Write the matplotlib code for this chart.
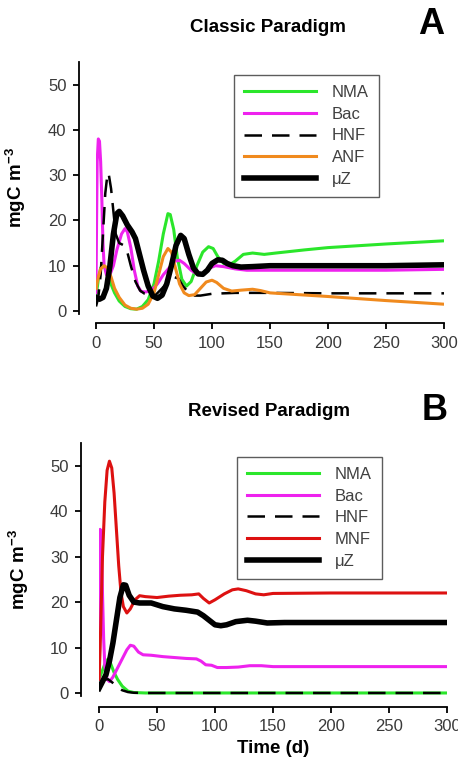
import matplotlib
matplotlib.use("Agg")
import matplotlib.pyplot as plt

plt.rcParams['font.family'] = ['Liberation Sans', 'DejaVu Sans']
plt.rcParams['mathtext.fontset'] = 'custom'
plt.rcParams['mathtext.rm'] = 'Liberation Sans:bold'
plt.rcParams['mathtext.bf'] = 'Liberation Sans:bold'

# ---------------- Panel A : Classic Paradigm ----------------
a_nma_t = [0, 2, 4, 6, 8, 12, 16, 20, 25, 30, 35, 40, 45, 50, 54, 58, 62, 64, 67, 70, 74, 78, 82, 87, 92, 97, 101, 105, 110, 115, 120, 127, 135, 145, 155, 180, 200, 250, 300]
a_nma_v = [3, 7, 9.5, 10.2, 9.5, 6.5, 4, 2.2, 1, 0.5, 0.4, 1, 2.5, 6, 11, 17, 21.5, 21.3, 18, 12, 7, 5.5, 6.5, 10, 13, 14.2, 13.8, 12, 10.5, 10.2, 11, 12.5, 12.8, 12.5, 12.8, 13.5, 14, 14.8, 15.5]

a_bac_t = [0, 0.5, 1, 2, 3, 4, 5, 6, 7, 9, 12, 15, 18, 22, 25, 27, 30, 33, 36, 39, 43, 48, 53, 58, 63, 68, 72, 76, 82, 88, 93, 98, 103, 110, 120, 130, 150, 200, 250, 300]
a_bac_v = [4, 20, 33, 38, 37.5, 33, 25, 15, 10, 8, 8, 10, 13.5, 17, 18.2, 17.5, 14, 9, 5.5, 4.3, 4.2, 4.6, 6, 8, 9.5, 11, 11.2, 10.5, 9, 8, 8.2, 9.5, 10, 9.8, 9.3, 9, 9, 9, 9, 9.2]

a_hnf_t = [0, 2, 4, 6, 8, 10, 11, 13, 15, 17, 20, 24, 27, 30, 34, 38, 42, 47, 52, 57, 62, 67, 71, 75, 80, 85, 90, 100, 120, 150, 200, 250, 300]
a_hnf_v = [1, 3, 8, 17, 26, 30.5, 30.2, 27, 22, 17, 15, 14.5, 13, 10, 6.5, 4.5, 3.8, 3.5, 3.7, 5, 6.5, 7.5, 7.2, 5.5, 4, 3.4, 3.4, 3.8, 4, 4, 3.9, 3.9, 3.9]

a_anf_t = [0, 2, 4, 7, 10, 13, 16, 20, 25, 30, 35, 40, 45, 50, 54, 58, 62, 65, 68, 72, 76, 80, 85, 90, 95, 100, 104, 110, 117, 125, 135, 142, 150, 200, 250, 300]
a_anf_v = [5, 7.5, 9.3, 10, 9.5, 7.5, 5, 3, 1.3, 0.6, 0.4, 0.6, 1.5, 4, 8, 12, 13.8, 13, 10, 6, 4, 3.4, 3.6, 5, 6.4, 6.8, 6.3, 5, 4.4, 4.6, 4.8, 4.5, 4, 3.2, 2.3, 1.5]

a_uz_t = [0, 3, 6, 9, 12, 15, 18, 20, 23, 27, 31, 34, 37, 41, 45, 49, 53, 57, 61, 65, 69, 73, 76, 80, 84, 88, 92, 96, 100, 105, 109, 113, 118, 125, 135, 150, 200, 250, 300]
a_uz_v = [3, 2.6, 3, 5, 10, 17, 21.5, 22, 21, 19, 17.5, 16, 13, 9, 5.5, 3.3, 2.8, 3.5, 6, 10, 14.5, 16.7, 16, 12.5, 9.5, 8.2, 8.1, 9, 10.5, 11.3, 11.2, 10.5, 10, 9.7, 9.8, 10, 10, 10, 10.2]

# ---------------- Panel B : Revised Paradigm ----------------
b_nma_t = [0, 3, 6, 8, 10, 13, 16, 20, 25, 30, 40, 300]
b_nma_v = [3, 5, 7, 7.5, 6.5, 4.5, 3, 1.5, 0.4, 0.1, 0, 0]

b_bac_t = [0, 0.5, 1, 2, 3, 4, 5, 7, 9, 12, 16, 20, 24, 27, 30, 34, 38, 45, 55, 65, 75, 84, 88, 92, 97, 102, 110, 120, 130, 140, 150, 200, 250, 300]
b_bac_v = [3, 20, 36, 34, 22, 12, 6, 3, 2.5, 3.5, 5.5, 7.5, 9.5, 10.5, 10.3, 9, 8.4, 8.3, 8, 7.8, 7.6, 7.5, 7, 6.2, 6.1, 5.6, 5.6, 5.7, 6, 6, 5.8, 5.8, 5.8, 5.8]

b_hnf_t = [0, 4, 8, 12, 16, 20, 25, 30, 40, 300]
b_hnf_v = [2, 3, 3, 2.2, 1.3, 0.6, 0.2, 0.05, 0, 0]

b_mnf_t = [0, 1, 2, 3, 5, 7, 9, 11, 13, 15, 17, 19, 21, 24, 27, 31, 35, 40, 50, 60, 70, 80, 86, 90, 95, 100, 108, 115, 120, 127, 135, 142, 150, 200, 250, 300]
b_mnf_v = [3, 10, 20, 30, 42, 49, 51, 49.5, 44, 36, 28, 22, 19, 17.6, 18.5, 20.5, 21.4, 21.2, 21, 21.3, 21.5, 21.6, 21.8, 20.8, 19.8, 20.5, 21.8, 22.7, 22.9, 22.5, 21.8, 21.6, 21.9, 22, 22, 22]

b_uz_t = [0, 3, 6, 9, 12, 15, 18, 21, 23, 26, 30, 35, 45, 55, 65, 75, 85, 90, 95, 100, 105, 110, 118, 128, 135, 145, 160, 200, 250, 300]
b_uz_v = [1, 2.5, 4, 7, 11, 16, 21, 23.8, 23.7, 21.5, 20, 19.8, 19.8, 19, 18.5, 18.2, 17.8, 17, 16, 15, 14.8, 15, 15.7, 16, 15.8, 15.4, 15.5, 15.5, 15.5, 15.5]

x_ticks = [0, 50, 100, 150, 200, 250, 300]
y_ticks = [0, 10, 20, 30, 40, 50]

GREEN = '#2BE62B'
MAGENTA = '#EE22EE'
ORANGE = '#F08A1E'
RED = '#DD1111'
TICKCOL = '#3a3a3a'

W, H = 458, 766
fig = plt.figure(figsize=(W / 100, H / 100), dpi=100)


def px_axes(x0, x1, ytop, ybot):
    return fig.add_axes([x0 / W, 1 - ybot / H, (x1 - x0) / W, (ybot - ytop) / H])


def style(ax, left_off, bottom_off):
    ax.set_xlim(0, 300)
    ax.set_ylim(-0.6, 55)
    for s in ('top', 'right'):
        ax.spines[s].set_visible(False)
    ax.spines['left'].set_position(('outward', left_off))
    ax.spines['bottom'].set_position(('outward', bottom_off))
    ax.spines['bottom'].set_bounds(0, 300)
    ax.spines['left'].set_linewidth(1.3)
    ax.spines['bottom'].set_linewidth(1.3)
    ax.set_xticks(x_ticks)
    ax.set_yticks(y_ticks)
    ax.tick_params(direction='out', length=4, width=1.3, labelsize=12,
                   labelcolor=TICKCOL, pad=5)
    ax.set_ylabel(r'$\mathbf{mgC\ m^{-3}}$', fontsize=13.5)
    ax.yaxis.set_label_coords(-0.195, 0.5)


def leg(ax, anchor):
    lg = ax.legend(loc='upper left', bbox_to_anchor=anchor, fontsize=12,
                   handlelength=4.3, handletextpad=0.95, labelspacing=0.4,
                   borderpad=0.6, frameon=True, fancybox=False, borderaxespad=0)
    lg.get_frame().set_edgecolor('#333333')
    lg.get_frame().set_linewidth(1.0)
    for t in lg.get_texts():
        t.set_color('#404040')


dash = (0, (7, 4))

# Panel A
axA = px_axes(96, 444, 62, 313.7)
axA.plot(a_nma_t, a_nma_v, color=GREEN, lw=2.2, label='NMA')
axA.plot(a_bac_t, a_bac_v, color=MAGENTA, lw=2.2, label='Bac')
axA.plot(a_hnf_t, a_hnf_v, color='black', lw=1.8, ls=dash, label='HNF')
axA.plot(a_anf_t, a_anf_v, color=ORANGE, lw=2.2, label='ANF')
axA.plot(a_uz_t, a_uz_v, color='black', lw=4.0, label='\u03bcZ')
style(axA, 12.2, 6.7)
leg(axA, ((234 - 96) / 348, (313.7 - 75) / 251.7))

# Panel B
axB = px_axes(99, 447, 443, 695.7)
axB.plot(b_nma_t, b_nma_v, color=GREEN, lw=2.2, label='NMA')
axB.plot(b_bac_t, b_bac_v, color=MAGENTA, lw=2.2, label='Bac')
axB.plot(b_hnf_t, b_hnf_v, color='black', lw=1.8, ls=dash, label='HNF')
axB.plot(b_mnf_t, b_mnf_v, color=RED, lw=2.2, label='MNF')
axB.plot(b_uz_t, b_uz_v, color='black', lw=4.0, label='\u03bcZ')
style(axB, 13.0, 8.0)
leg(axB, ((237 - 99) / 348, (695.7 - 457) / 252.7))
axB.set_xlabel('Time (d)', fontsize=13.5, fontweight='bold', labelpad=4)

fig.text(268 / W, 1 - 28 / H, 'Classic Paradigm', ha='center', va='center',
         fontsize=13.5, fontweight='bold')
fig.text(431 / W, 1 - 25 / H, 'A', ha='center', va='center',
         fontsize=26, fontweight='bold')
fig.text(269 / W, 1 - 412 / H, 'Revised Paradigm', ha='center', va='center',
         fontsize=13.5, fontweight='bold')
fig.text(435 / W, 1 - 410 / H, 'B', ha='center', va='center',
         fontsize=26, fontweight='bold')

fig.savefig('out.png', dpi=100)
